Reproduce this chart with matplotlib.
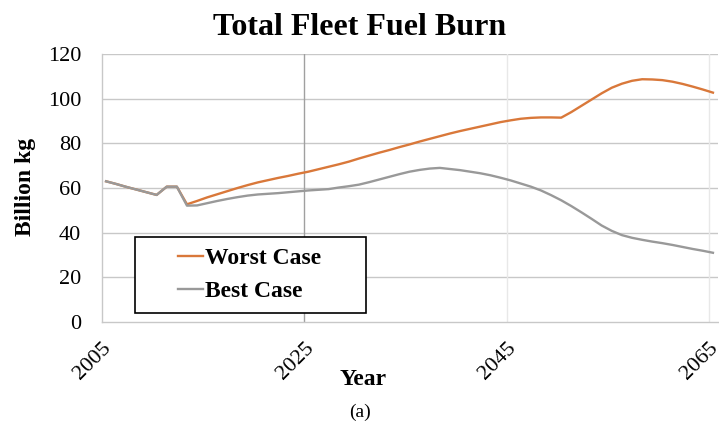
import numpy as np
from matplotlib import pyplot as plt
from matplotlib.patches import Rectangle

plt.rcParams["font.family"] = ["Liberation Serif", "DejaVu Serif"]

years = np.arange(2005, 2066)

worst_case = [
    63.0, 61.8, 60.5, 59.3, 58.1, 56.9, 60.6, 60.6, 52.7, 54.2,
    55.8, 57.2, 58.6, 60.0, 61.3, 62.5, 63.5, 64.5, 65.4, 66.4,
    67.3, 68.4, 69.5, 70.6, 71.8, 73.2, 74.5, 75.8, 77.0, 78.3,
    79.5, 80.8, 82.0, 83.2, 84.4, 85.5, 86.5, 87.5, 88.5, 89.5,
    90.3, 91.0, 91.4, 91.6, 91.6, 91.5, 94.0, 96.8, 99.6, 102.4,
    104.9, 106.7, 108.0, 108.7, 108.6, 108.3, 107.6, 106.6, 105.4, 104.1,
    102.7,
]
best_case = [
    63.0, 61.8, 60.5, 59.3, 58.1, 56.9, 60.6, 60.6, 52.1, 52.2,
    53.2, 54.2, 55.1, 55.9, 56.6, 57.1, 57.4, 57.7, 58.1, 58.5,
    58.9, 59.2, 59.5, 60.2, 60.8, 61.5, 62.6, 63.8, 65.0, 66.2,
    67.3, 68.1, 68.7, 69.0, 68.5, 68.0, 67.3, 66.6, 65.7, 64.6,
    63.4, 62.0, 60.6, 58.9, 56.8, 54.5, 51.9, 49.1, 46.2, 43.2,
    40.8, 38.9, 37.7, 36.8, 36.0, 35.3, 34.5, 33.6, 32.7, 31.9,
    31.0,
]
year_ticks = [2005, 2025, 2045, 2065]
value_ticks = [0, 20, 40, 60, 80, 100, 120]

W, H = 719, 436
fig = plt.figure(figsize=(W / 100, H / 100), dpi=100)
ax = fig.add_axes([102 / W, 1 - 322 / H, 616 / W, 268 / H])

# the category axis in the original puts the labels a little left of the data years
offset = -0.4
ax.set_xlim(2005 + offset, 2065.5)
ax.set_ylim(0, 120)

for y in value_ticks[1:]:
    ax.axhline(y, color="#c8c8c8", lw=1.0, zorder=0)
for yr in year_ticks[1:]:
    c = "#a0a0a0" if yr == 2025 else "#e8e8e8"
    ax.axvline(yr + offset, color=c, lw=1.0, zorder=0)

ax.plot(years, worst_case, color="#D9783A", lw=1.7, label="Worst Case")
ax.plot(years, best_case, color="#999999", lw=1.7, label="Best Case")

for side in ["top", "right"]:
    ax.spines[side].set_visible(False)
for side in ["left", "bottom"]:
    ax.spines[side].set_color("#c8c8c8")
    ax.spines[side].set_linewidth(1.0)

ax.set_xticks([yr + offset for yr in year_ticks])
ax.set_xticklabels([str(yr) for yr in year_ticks], rotation=45, fontsize=16)
ax.set_yticks(value_ticks)
ax.set_yticklabels([str(v) for v in value_ticks], fontsize=16)
ax.tick_params(axis="x", length=0, pad=12)
ax.tick_params(axis="y", length=0, pad=15)
for lab in ax.get_xticklabels():
    lab.set_horizontalalignment("right")
    lab.set_rotation_mode("anchor")

fig.text(25 / W, 1 - 187 / H, "Billion kg", rotation=90, ha="center", va="center",
         fontsize=17, fontweight="bold")
fig.text(363 / W, 1 - 385 / H, "Year", ha="center", va="baseline",
         fontsize=17, fontweight="bold")
fig.text(0.5, 1 - 35 / H, "Total Fleet Fuel Burn", ha="center", va="baseline",
         fontsize=23, fontweight="bold")
fig.text(360 / W, 1 - 412 / H, "(a)", ha="center", va="center", fontsize=14)

# legend frame drawn separately: the original has a wide empty margin on the left
ax.add_patch(Rectangle((135 / W, 1 - 313 / H), 231 / W, 76 / H,
                       transform=fig.transFigure, facecolor="white",
                       edgecolor="black", lw=1.2, zorder=3, clip_on=False))
leg = ax.legend(
    loc="center left", bbox_to_anchor=(166 / W, 1 - 275 / H),
    bbox_transform=fig.transFigure, frameon=False,
    handlelength=1.05, handletextpad=0.1, borderpad=0.0,
    labelspacing=0.5, prop={"size": 17, "weight": "bold"},
)
leg.set_zorder(4)

fig.savefig("out.png", dpi=100)
plt.close(fig)
